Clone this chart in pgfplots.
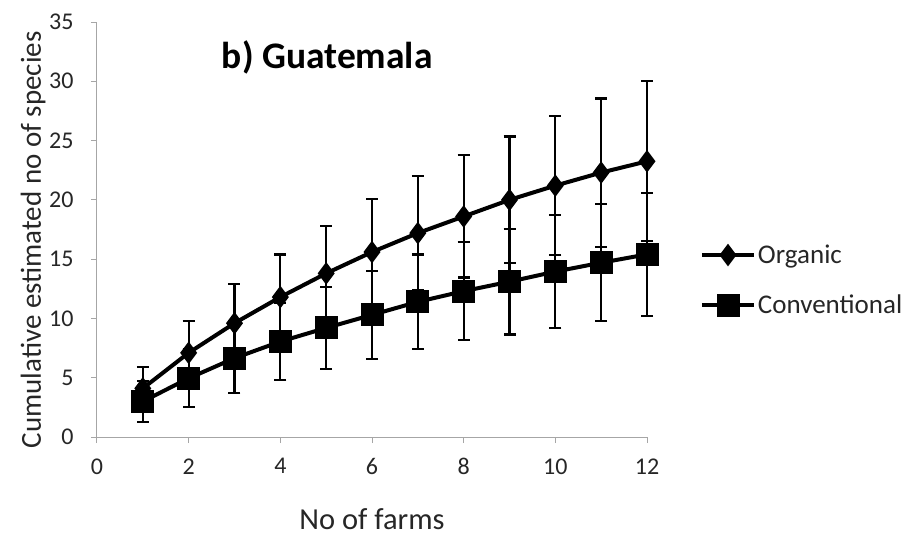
\documentclass[border=0pt]{standalone}
\usepackage{pgfplots}
\pgfplotsset{compat=1.18}
\usepackage{fontspec}
\setmainfont{Carlito}

% Cumulative estimated species richness (mean and s.d.) against farms sampled
\pgfplotstableread{
x  y     e
1  4.1   1.8
2  7.1   2.7
3  9.6   3.3
4  11.8  3.6
5  13.8  4.0
6  15.6  4.45
7  17.2  4.8
8  18.6  5.15
9  20.0  5.35
10 21.2  5.85
11 22.3  6.25
12 23.25 6.75
}\organic

\pgfplotstableread{
x  y     e
1  3.0   1.75
2  4.95  2.45
3  6.65  2.95
4  8.05  3.25
5  9.2   3.45
6  10.3  3.7
7  11.4  4.0
8  12.3  4.15
9  13.1  4.45
10 13.95 4.75
11 14.7  4.95
12 15.4  5.2
}\conventional

\begin{document}
\begin{tikzpicture}
\useasboundingbox (-97pt,-99pt) rectangle (811pt,437pt);
\begin{axis}[
  at={(0pt,0pt)}, anchor=origin,
  scale only axis,
  width=550pt, height=415pt,
  xmin=0, xmax=12, ymin=0, ymax=35,
  axis lines*=left,
  axis line style={gray!70, line width=1pt},
  xtick={0,2,...,12}, ytick={0,5,...,35},
  tick align=outside,
  major tick length=6pt,
  tick style={gray!70, line width=1pt},
  /pgf/number format/assume math mode=true,
  tick label style={font=\fontsize{24}{28}\selectfont, text=black!85},
  yticklabel style={xshift=-14pt},
  xticklabel style={yshift=-12pt},
  xlabel={No of farms},
  ylabel={Cumulative estimated no of species},
  xlabel style={font=\fontsize{30.5}{34}\selectfont, text=black!85,
    at={(0.5,-0.198)}, anchor=center},
  ylabel style={font=\fontsize{29}{34}\selectfont, text=black!85,
    at={(-0.116,0.475)}, anchor=center},
  clip=false,
  legend style={at={(1.096,0.378)}, anchor=west, draw=none,
    font=\fontsize{27}{30}\selectfont, text=black!85,
    row sep=26pt, inner sep=0pt},
  legend cell align=left,
  legend image code/.code={%
    \draw[#1, mark repeat=2, mark phase=2]
      plot coordinates {(0pt,0pt) (26pt,0pt) (52pt,0pt)};},
  error bars/y dir=both,
  error bars/y explicit,
  error bars/error bar style={line width=2.2pt, black},
  error bars/error mark options={rotate=90, mark size=6pt, line width=2.2pt, black},
]
\addplot[black, line width=4pt, mark=diamond*, mark size=8pt,
    mark options={solid, fill=black, draw=black}]
  table[x=x, y=y, y error=e] {\organic};
\addlegendentry{Organic}
\addplot[black, line width=4pt, mark=square*, mark size=9.5pt,
    mark options={solid, fill=black, draw=black}]
  table[x=x, y=y, y error=e] {\conventional};
\addlegendentry{Conventional}
\node[anchor=west, font=\fontsize{37.5}{42}\selectfont\bfseries]
  at (axis cs:2.65,32.0) {b) Guatemala};
\end{axis}
\end{tikzpicture}
\end{document}
